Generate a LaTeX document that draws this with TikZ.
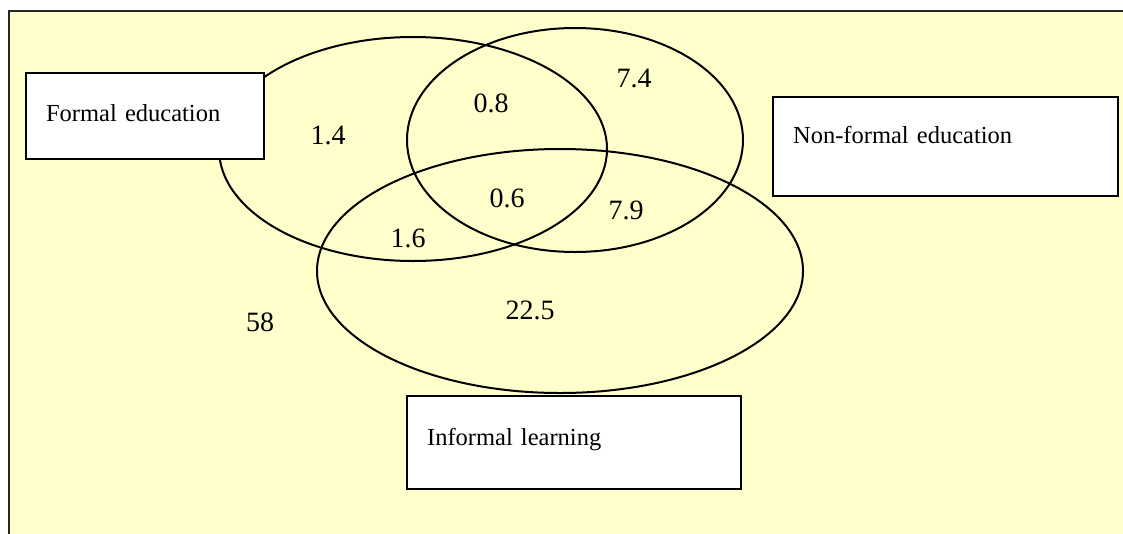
\documentclass[tikz,border=0pt]{standalone}
\usepackage{fontspec}
\setmainfont{Liberation Serif}
\usetikzlibrary{positioning}
\definecolor{paleyellow}{HTML}{FFFFCC}

\begin{document}
\begin{tikzpicture}[x=1pt,y=-1pt,font=\fontsize{24.5}{28}\selectfont,
  venn/.style={line width=2pt},
  share/.style={font=\fontsize{28}{32}\selectfont},
  setbox/.style={draw,line width=2.2pt,fill=white,rectangle,anchor=north west,
                 inner xsep=20pt,inner ysep=0pt,align=left}]
  % page and the yellow panel (runs off the right and bottom edges)
  \useasboundingbox (0,0) rectangle (1123,533);
  \fill[white] (0,0) rectangle (1123,533);
  \fill[paleyellow] (9,11) rectangle (1135,545);
  \draw[line width=2.4pt,black!85] (9,545) -- (9,11) -- (1135,11);
  % the three sets
  \draw[venn] (413,149) ellipse [x radius=194pt,y radius=112pt];
  \draw[venn] (575,140) ellipse [x radius=168pt,y radius=112pt];
  \draw[venn] (560,271) ellipse [x radius=243pt,y radius=122pt];
  % set names
  \node[setbox,text width=198pt,minimum height=86pt,text depth=6pt] (formal) at (25,72) {Formal education};
  \node[setbox,text width=305pt,minimum height=99pt,text depth=23pt] (nonformal) at (772,96) {Non-formal education};
  \node[setbox,text width=294pt,minimum height=93pt,text depth=12pt] (informal) at (406,395) {Informal learning};
  % shares
  \node[share] (f) at (328,135) {1.4};
  \node[share] (fn) at (491,103) {0.8};
  \node[share] (n) at (634,78) {7.4};
  \node[share] (fni) at (507,198) {0.6};
  \node[share] (fi) at (408,238) {1.6};
  \node[share] (ni) at (626,210) {7.9};
  \node[share] (i) at (530,310) {22.5};
  \node[share] (none) at (260,322) {58};
\end{tikzpicture}
\end{document}
